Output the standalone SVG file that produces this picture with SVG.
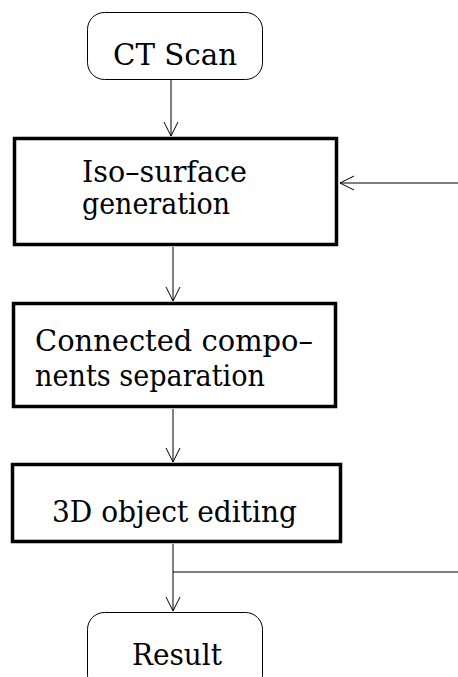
<svg xmlns="http://www.w3.org/2000/svg" width="458" height="677" viewBox="0 0 458 677">
<style>
.term{fill:#fff;stroke:#000;stroke-width:1}
.proc{fill:#fff;stroke:#000;stroke-width:3.5}
.lbl{font-family:'DejaVu Serif',serif;font-size:30px;fill:#000}
.conn{fill:none;stroke:#000;stroke-width:1}
</style>
<defs>
<marker id="arr" markerUnits="userSpaceOnUse" markerWidth="16" markerHeight="16" refX="14" refY="7" orient="auto" overflow="visible">
<path d="M0,0 L14,7 L0,14" fill="none" stroke="#000" stroke-width="1"/>
</marker>
</defs>
<rect width="458" height="677" fill="#fff"/>
<g id="connectors">
<line class="conn" x1="171" y1="80" x2="171" y2="136" marker-end="url(#arr)"/>
<line class="conn" x1="458" y1="183" x2="340" y2="183" marker-end="url(#arr)"/>
<line class="conn" x1="173" y1="247" x2="173" y2="301" marker-end="url(#arr)"/>
<line class="conn" x1="173" y1="409" x2="173" y2="462" marker-end="url(#arr)"/>
<line class="conn" x1="173" y1="544" x2="173" y2="611" marker-end="url(#arr)"/>
<line class="conn" x1="173" y1="572" x2="458" y2="572"/>
</g>
<g id="ct-scan">
<rect class="term" x="87.5" y="12.5" width="175" height="67" rx="17"/>
<text class="lbl" x="113" y="65" textLength="124" lengthAdjust="spacingAndGlyphs">CT Scan</text>
</g>
<g id="iso-surface">
<rect class="proc" x="14.5" y="138.5" width="322" height="106"/>
<text class="lbl" x="82" y="182" textLength="165" lengthAdjust="spacingAndGlyphs">Iso–surface</text>
<text class="lbl" x="82" y="214" textLength="148" lengthAdjust="spacingAndGlyphs">generation</text>
</g>
<g id="connected-components">
<rect class="proc" x="13.5" y="303.5" width="322" height="103"/>
<text class="lbl" x="35" y="351" textLength="278" lengthAdjust="spacingAndGlyphs">Connected compo–</text>
<text class="lbl" x="35" y="386" textLength="230" lengthAdjust="spacingAndGlyphs">nents separation</text>
</g>
<g id="object-editing">
<rect class="proc" x="12.5" y="464.5" width="328" height="77"/>
<text class="lbl" x="52" y="522" textLength="245" lengthAdjust="spacingAndGlyphs">3D object editing</text>
</g>
<g id="result">
<rect class="term" x="87.5" y="612.5" width="175" height="80" rx="17"/>
<text class="lbl" x="132" y="665" textLength="90" lengthAdjust="spacingAndGlyphs">Result</text>
</g>
</svg>
